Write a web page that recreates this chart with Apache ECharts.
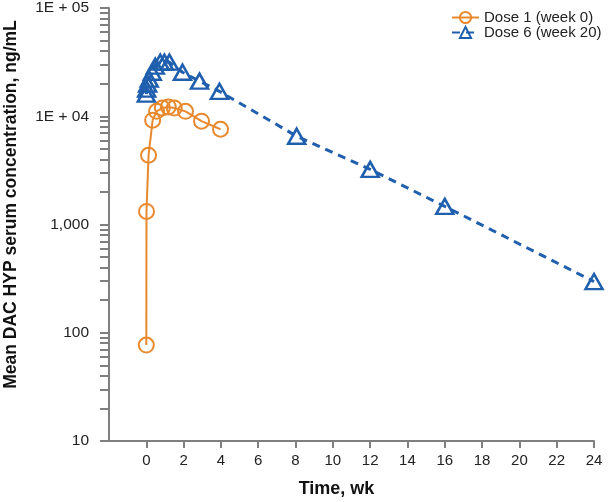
<!DOCTYPE html>
<html>
<head>
<meta charset="utf-8">
<script src="https://cdn.jsdelivr.net/npm/echarts@6/dist/echarts.min.js"></script>
<style>
html,body{margin:0;padding:0;background:#fff;}
#chart{width:611px;height:502px;}
</style>
</head>
<body>
<div id="chart"></div>
<script>
// Dose 1 (week 0): time (wk) and concentration (ng/mL)
var dose1Time = [0, 0.01, 0.12, 0.34, 0.55, 0.86, 1.18, 1.5, 2.1, 2.96, 3.98];
var dose1Conc = [77, 1320, 4360, 9200, 11100, 11900, 12200, 11900, 11100, 9000, 7580];
// Dose 6 (week 20)
var dose6Time = [0, 0.02, 0.07, 0.16, 0.32, 0.48, 0.75, 0.97, 1.24, 1.94, 2.85, 3.92, 8.06, 12, 16, 24];
var dose6Conc = [16000, 17800, 19800, 22000, 25500, 29000, 31600, 31600, 31600, 25500, 21100, 17000, 6540, 3230, 1470, 297];
// Tick labels
var xTickValues = [0, 2, 4, 6, 8, 10, 12, 14, 16, 18, 20, 22, 24];
var yDecades = [10, 100, 1000, 10000, 100000];
var yDecadeLabels = ['10', '100', '1,000', '1E + 04', '1E + 05'];
var seriesNames = ['Dose 1 (week 0)', 'Dose 6 (week 20)'];

var yTickValues = [];
for (var i = 0; i < yDecades.length - 1; i++) {
  for (var k = 1; k <= 9; k++) yTickValues.push(yDecades[i] * k);
}
yTickValues.push(yDecades[yDecades.length - 1]);

function zip(a, b) { return a.map(function (v, i) { return [v, b[i]]; }); }

var ORANGE = '#E8892E';
var BLUE = '#1F5FAE';
var AXIS = '#7f7f7f';
var FONT = 'Liberation Sans, Arial, sans-serif';

var chart = echarts.init(document.getElementById('chart'), null, {renderer: 'canvas'});
chart.setOption({
  animation: false,
  backgroundColor: '#fff',
  textStyle: {fontFamily: FONT},
  grid: {left: 109, right: 17, top: 8, bottom: 61, containLabel: false, outerBoundsMode: 'none'},
  legend: {
    orient: 'vertical',
    left: 446,
    top: 5,
    itemGap: 0,
    itemWidth: 27,
    itemHeight: 14,
    textStyle: {fontSize: 15, color: '#222', fontFamily: FONT},
    data: seriesNames
  },
  xAxis: {
    type: 'value',
    min: -2,
    max: 24,
    interval: 2,
    name: 'Time, wk',
    nameLocation: 'middle',
    nameGap: 39,
    nameTextStyle: {fontSize: 18, fontWeight: 'bold', color: '#111', padding: [0, 30, 0, 0]},
    axisLine: {lineStyle: {color: AXIS, width: 2}},
    axisTick: {customValues: xTickValues, length: 7, lineStyle: {color: AXIS, width: 2}},
    axisLabel: {customValues: xTickValues, fontSize: 15, color: '#222', margin: 12},
    splitLine: {show: false}
  },
  yAxis: {
    type: 'log',
    logBase: 10,
    min: 10,
    max: 100000,
    name: 'Mean DAC HYP serum concentration, ng/mL',
    nameLocation: 'middle',
    nameGap: 89,
    nameTextStyle: {fontSize: 17.5, fontWeight: 'bold', color: '#111', padding: [0, 0, 0, 40]},
    axisLine: {show: true, onZero: false, lineStyle: {color: AXIS, width: 2}},
    axisTick: {show: true, customValues: yTickValues, length: 9, lineStyle: {color: AXIS, width: 2}},
    axisLabel: {
      customValues: yDecades,
      fontSize: 15.5,
      color: '#222',
      margin: 20,
      formatter: function (v) {
        var idx = yDecades.indexOf(Math.round(v));
        return idx >= 0 ? yDecadeLabels[idx] : '';
      }
    },
    splitLine: {show: false}
  },
  series: [
    {
      name: seriesNames[0],
      type: 'line',
      data: zip(dose1Time, dose1Conc),
      symbol: 'circle',
      symbolSize: 15,
      clip: false,
      lineStyle: {color: ORANGE, width: 2},
      itemStyle: {color: 'rgba(255,255,255,0)', borderColor: ORANGE, borderWidth: 2},
      z: 2
    },
    {
      name: seriesNames[1],
      type: 'line',
      data: zip(dose6Time, dose6Conc),
      symbol: 'triangle',
      symbolSize: [17, 15],
      clip: false,
      lineStyle: {color: BLUE, width: 3, type: [8, 6]},
      itemStyle: {color: 'rgba(255,255,255,0)', borderColor: BLUE, borderWidth: 2.5},
      z: 3
    }
  ]
});
</script>
</body>
</html>
